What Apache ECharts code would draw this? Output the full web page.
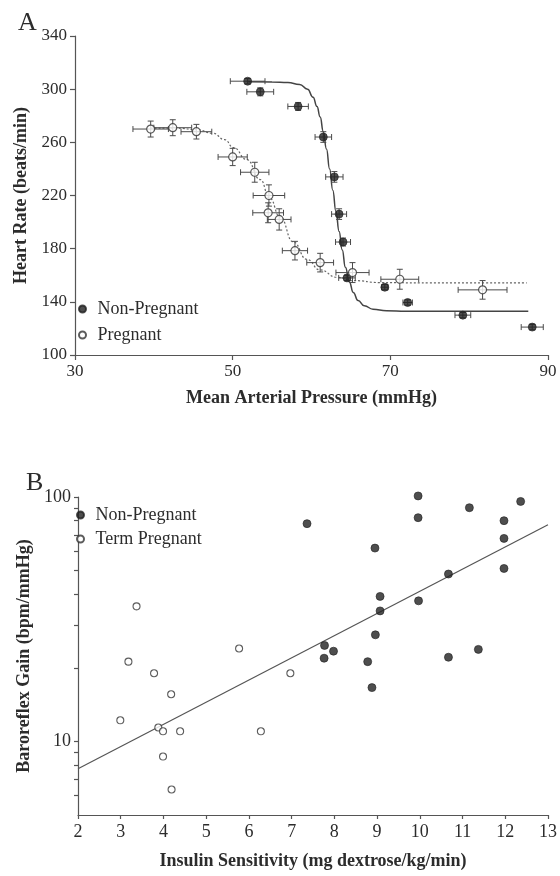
<!DOCTYPE html>
<html>
<head>
<meta charset="utf-8">
<script src="https://cdn.jsdelivr.net/npm/echarts@6/dist/echarts.min.js"></script>
<style>
  html, body { margin: 0; padding: 0; background: #fff; }
  #chart { width: 560px; height: 876px; }
</style>
</head>
<body>
<div id="chart"></div>
<script>
// ---- Panel A: heart rate vs mean arterial pressure (mean ± SEM) ----
const npMap    = [51.9, 53.5, 58.3, 61.5, 62.9, 63.5, 64.0, 64.5, 69.3, 72.2, 79.2, 88.0];
const npHr     = [306, 298, 287, 264, 234, 206, 185, 158, 151, 139.5, 130, 121];
const npMapErr = [2.2, 1.7, 1.3, 1.05, 1.1, 0.95, 0.95, 1.05, 0.4, 0.6, 1.0, 1.4];
const npHrErr  = [2, 3, 3, 4, 4, 4, 3, 2, 2, 2, 2, 2];

const pMap     = [39.6, 42.4, 45.4, 50.0, 52.8, 54.6, 54.5, 55.9, 57.9, 61.1, 65.2, 71.2, 81.7];
const pHr      = [270, 271, 268, 249, 237.5, 220, 207, 202, 178.5, 169.5, 162, 157, 149];
const pMapErr  = [2.25, 2.4, 1.95, 1.85, 1.8, 2.0, 1.95, 1.5, 1.6, 1.7, 2.1, 2.4, 3.1];
const pHrErr   = [6, 6, 5.5, 6.5, 7.5, 8, 7.5, 8, 7, 7, 7.5, 7.5, 7];

// fitted baroreflex curves (sampled along the drawn curve)
const npCurveMap = [52, 55, 57, 58.5, 59.5, 60.2, 60.7, 61.1, 61.5, 61.9, 62.3, 62.7, 63.1, 63.5, 63.9, 64.3, 64.8, 65.3, 65.9, 66.7, 67.8, 69.5, 72, 87.5];
const npCurveHr  = [305.5, 305.4, 305, 303.5, 300, 294, 287, 279, 268, 255, 240, 224, 208, 193, 179, 166, 155, 147, 141, 137, 134.5, 133.3, 133, 133];
const pCurveMap  = [39.6, 43, 45.5, 47.5, 49, 50.1, 51.8, 53.5, 54.7, 56.0, 57.7, 59.4, 61.1, 63.2, 65.3, 68.7, 75, 87.3];
const pCurveHr   = [270.8, 270.6, 269.5, 266.8, 262, 256, 247, 232, 218, 204, 185, 172, 164, 158.5, 156, 154.5, 154.2, 154.2];

const aXTicks = { min: 30, max: 90, interval: 20 };
const aYTicks = { min: 100, max: 340, interval: 40 };

// ---- Panel B: baroreflex gain vs insulin sensitivity ----
const npIns  = [7.36, 8.95, 9.07, 9.07, 8.96, 7.77, 7.98, 9.96, 9.96, 9.97, 10.67, 11.16, 11.97, 11.97, 11.97, 12.36, 11.37, 7.76, 8.78, 8.88, 10.67];
const npGain = [77.8, 61.8, 39.2, 34.2, 27.3, 24.7, 23.4, 101, 82.3, 37.6, 48.4, 90.4, 80.0, 67.7, 51.0, 95.9, 23.8, 21.9, 21.2, 16.6, 22.1];
const tpIns  = [3.37, 3.18, 3.78, 5.77, 6.97, 4.18, 2.99, 3.88, 3.99, 4.39, 6.28, 3.99, 4.19];
const tpGain = [35.7, 21.2, 19.0, 24.0, 19.0, 15.6, 12.2, 11.4, 11.0, 11.0, 11.0, 8.67, 6.36];
const fitIns  = [2, 13];
const fitGain = [7.73, 77.0];

const bXTicks = { min: 2, max: 13, interval: 1 };
const bYRange = { min: 5, max: 100 };
const bYLabels = [10, 100];
const bYTicks  = [6, 7, 8, 9, 10, 20, 30, 40, 50, 60, 70, 80, 90, 100];

// ---- helpers ----
const zip = (...cols) => cols[0].map((_, i) => cols.map(c => c[i]));
const SERIF = '"Liberation Serif", "Times New Roman", serif';
const INK = '#2c2c2c';
const AXIS = '#555';

function errorBars(params, api) {
  const x = api.value(0), y = api.value(1), ex = api.value(2), ey = api.value(3);
  const c = api.coord([x, y]);
  const l = api.coord([x - ex, y])[0], r = api.coord([x + ex, y])[0];
  const t = api.coord([x, y + ey])[1], b = api.coord([x, y - ey])[1];
  const cap = 3;
  const style = { stroke: '#4a4a4a', lineWidth: 1 };
  const seg = (x1, y1, x2, y2) => ({ type: 'line', shape: { x1, y1, x2, y2 }, style });
  return {
    type: 'group',
    children: [
      seg(l, c[1], r, c[1]),
      seg(l, c[1] - cap, l, c[1] + cap),
      seg(r, c[1] - cap, r, c[1] + cap),
      seg(c[0], t, c[0], b),
      seg(c[0] - cap, t, c[0] + cap, t),
      seg(c[0] - cap, b, c[0] + cap, b)
    ]
  };
}

const axisLabelStyle = { color: INK, fontFamily: SERIF, fontSize: 17 };
const nameStyle = { color: INK, fontFamily: SERIF, fontSize: 18, fontWeight: 'bold' };
const lineStyle = { color: AXIS, width: 1.2 };

const option = {
  animation: false,
  backgroundColor: '#fff',
  grid: [
    { left: 75, right: 12, top: 36, height: 319 },
    { left: 78, right: 9, top: 497, height: 318 }
  ],
  xAxis: [
    {
      gridIndex: 0, type: 'value', min: aXTicks.min, max: aXTicks.max, interval: aXTicks.interval,
      axisLine: { lineStyle }, axisTick: { length: 5, lineStyle }, splitLine: { show: false },
      axisLabel: Object.assign({ margin: 8 }, axisLabelStyle),
      name: 'Mean Arterial Pressure (mmHg)', nameLocation: 'middle', nameGap: 34, nameTextStyle: nameStyle
    },
    {
      gridIndex: 1, type: 'value', min: bXTicks.min, max: bXTicks.max, interval: bXTicks.interval,
      axisLine: { lineStyle }, axisTick: { length: 4, lineStyle }, splitLine: { show: false },
      axisLabel: Object.assign({ margin: 8 }, axisLabelStyle, { fontSize: 18 }),
      name: 'Insulin Sensitivity (mg dextrose/kg/min)', nameLocation: 'middle', nameGap: 37, nameTextStyle: nameStyle
    }
  ],
  yAxis: [
    {
      gridIndex: 0, type: 'value', min: aYTicks.min, max: aYTicks.max, interval: aYTicks.interval,
      axisLine: { show: true, lineStyle }, axisTick: { show: true, length: 5, lineStyle }, splitLine: { show: false },
      axisLabel: Object.assign({ margin: 8 }, axisLabelStyle),
      name: 'Heart Rate (beats/min)', nameLocation: 'middle', nameGap: 38, nameTextStyle: nameStyle
    },
    {
      gridIndex: 1, type: 'log', logBase: 10, min: bYRange.min, max: bYRange.max,
      axisLine: { show: true, lineStyle },
      axisTick: { show: true, length: 4, lineStyle, customValues: bYTicks },
      splitLine: { show: false }, minorTick: { show: false },
      axisLabel: Object.assign({ margin: 7, customValues: bYLabels }, axisLabelStyle, { fontSize: 18 }),
      name: 'Baroreflex Gain (bpm/mmHg)', nameLocation: 'middle', nameGap: 39, nameTextStyle: nameStyle
    }
  ],
  legend: [
    {
      data: ['Non-Pregnant', 'Pregnant'], orient: 'vertical', left: 78, top: 300, padding: 0,
      itemGap: 8, itemWidth: 20, itemHeight: 7, icon: 'circle',
      textStyle: { color: INK, fontFamily: SERIF, fontSize: 18 }, selectedMode: false
    },
    {
      data: ['Non-Pregnant', 'Term Pregnant'], orient: 'vertical', left: 76, top: 506, padding: 0,
      itemGap: 6, itemWidth: 20, itemHeight: 7, icon: 'circle',
      textStyle: { color: INK, fontFamily: SERIF, fontSize: 18 }, selectedMode: false
    }
  ],
  graphic: [
    { type: 'text', left: 18, top: 10, style: { text: 'A', font: '26px ' + SERIF, fill: INK } },
    { type: 'text', left: 26, top: 470, style: { text: 'B', font: '26px ' + SERIF, fill: INK } }
  ],
  series: [
    // Panel A curves
    {
      type: 'line', xAxisIndex: 0, yAxisIndex: 0, data: zip(npCurveMap, npCurveHr),
      showSymbol: false, smooth: 0.5, smoothMonotone: 'x',
      lineStyle: { color: '#444', width: 1.5 }, z: 2, silent: true
    },
    {
      type: 'line', xAxisIndex: 0, yAxisIndex: 0, data: zip(pCurveMap, pCurveHr),
      showSymbol: false, smooth: 0.5, smoothMonotone: 'x',
      lineStyle: { color: '#666', width: 1.2, type: [2, 2] }, z: 2, silent: true
    },
    // Panel A error bars
    {
      type: 'custom', xAxisIndex: 0, yAxisIndex: 0, renderItem: errorBars,
      data: zip(npMap, npHr, npMapErr, npHrErr), encode: { x: 0, y: 1 }, z: 3, silent: true
    },
    {
      type: 'custom', xAxisIndex: 0, yAxisIndex: 0, renderItem: errorBars,
      data: zip(pMap, pHr, pMapErr, pHrErr), encode: { x: 0, y: 1 }, z: 3, silent: true
    },
    // Panel A means
    {
      name: 'Non-Pregnant', type: 'scatter', xAxisIndex: 0, yAxisIndex: 0,
      data: zip(npMap, npHr), symbol: 'circle', symbolSize: 8,
      itemStyle: { color: '#222', borderColor: '#222', borderWidth: 0.8 }, z: 5
    },
    {
      name: 'Pregnant', type: 'scatter', xAxisIndex: 0, yAxisIndex: 0,
      data: zip(pMap, pHr), symbol: 'circle', symbolSize: 8,
      itemStyle: { color: '#fff', borderColor: '#333', borderWidth: 1.2 }, z: 5
    },
    // Panel B regression line
    {
      type: 'line', xAxisIndex: 1, yAxisIndex: 1, data: zip(fitIns, fitGain),
      showSymbol: false, lineStyle: { color: '#555', width: 1.2 }, z: 2, silent: true
    },
    // Panel B individual animals
    {
      name: 'Non-Pregnant', type: 'scatter', xAxisIndex: 1, yAxisIndex: 1,
      data: zip(npIns, npGain), symbol: 'circle', symbolSize: 8, clip: false,
      itemStyle: { color: '#222', borderColor: '#222', borderWidth: 0.8 }, z: 5
    },
    {
      name: 'Term Pregnant', type: 'scatter', xAxisIndex: 1, yAxisIndex: 1,
      data: zip(tpIns, tpGain), symbol: 'circle', symbolSize: 7, clip: false,
      itemStyle: { color: '#fff', borderColor: '#333', borderWidth: 1.1 }, z: 5
    }
  ]
};

const chart = echarts.init(document.getElementById('chart'), null, { renderer: 'canvas' });
chart.setOption(option);
</script>
</body>
</html>
